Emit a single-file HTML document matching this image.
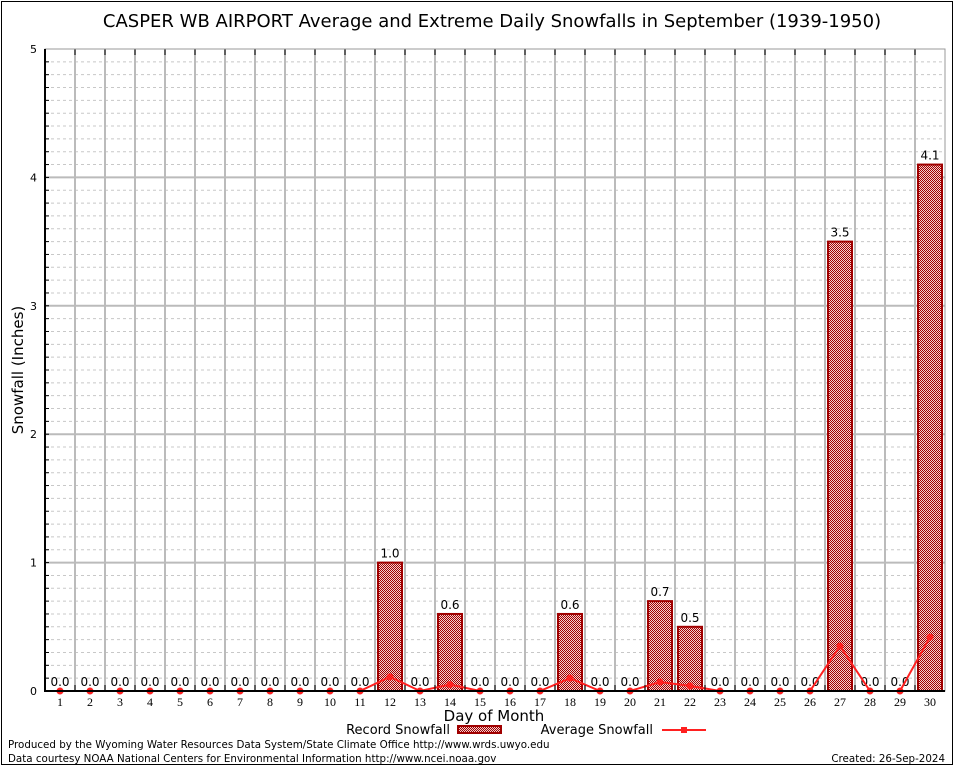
<!DOCTYPE html>
<html><head><meta charset="utf-8"><style>
body{margin:0;background:#fff}
svg{display:block;font-family:"DejaVu Sans","Liberation Sans",sans-serif}
</style></head><body>
<svg id="c" width="954" height="768" viewBox="0 0 954 768">
<defs><pattern id="hatch" width="2" height="2" patternUnits="userSpaceOnUse"><rect width="2" height="2" fill="#f4d0d0"/><rect width="1" height="1" fill="#a00000"/><rect x="1" y="1" width="1" height="1" fill="#a00000"/></pattern></defs>
<rect x="1.5" y="1.5" width="951" height="763" fill="none" stroke="#000"/>
<text x="492" y="27" text-anchor="middle" font-size="18">CASPER WB AIRPORT Average and Extreme Daily Snowfalls in September (1939-1950)</text>
<g id="grid"></g><g id="bars"></g><g id="avg"></g><g id="axes"></g>
<text transform="translate(23,370) rotate(-90)" text-anchor="middle" font-size="15">Snowfall (Inches)</text>
<text x="494" y="721" text-anchor="middle" font-size="15">Day of Month</text>
<g>
<text x="450" y="734" text-anchor="end" font-size="13">Record Snowfall</text>
<rect x="458" y="726" width="43" height="7" fill="url(#hatch)" stroke="#a00000" stroke-width="2"/>
<text x="653" y="734" text-anchor="end" font-size="13">Average Snowfall</text>
<line x1="662" y1="730" x2="706" y2="730" stroke="#ff2020" stroke-width="2"/>
<rect x="681" y="727" width="6" height="6" fill="#ff2020"/>
</g>
<text x="8" y="748" font-size="10.3">Produced by the Wyoming Water Resources Data System/State Climate Office http://www.wrds.uwyo.edu</text>
<text x="8" y="762" font-size="10.3">Data courtesy NOAA National Centers for Environmental Information http://www.ncei.noaa.gov</text>
<text x="945" y="762" text-anchor="end" font-size="10.3">Created: 26-Sep-2024</text>
</svg>
<script>
const days=[1,2,3,4,5,6,7,8,9,10,11,12,13,14,15,16,17,18,19,20,21,22,23,24,25,26,27,28,29,30];
const recordSnow=[0,0,0,0,0,0,0,0,0,0,0,1.0,0,0.6,0,0,0,0.6,0,0,0.7,0.5,0,0,0,0,3.5,0,0,4.1];
const avgSnow=[0,0,0,0,0,0,0,0,0,0,0,0.11,0,0.05,0,0,0,0.1,0,0,0.07,0.04,0,0,0,0,0.35,0,0,0.42];
const yTicks=[0,1,2,3,4,5];
const L=45,R=945,T=49,B=691;
const x=d=>L+(d-0.5)*(R-L)/30;
const y=v=>B-v*(B-T)/5;
const NS='http://www.w3.org/2000/svg';
function mk(p,tag,at){const e=document.createElementNS(NS,tag);for(const k in at)e.setAttribute(k,at[k]);p.appendChild(e);return e;}
const G=document.getElementById('grid'),Bg=document.getElementById('bars'),A=document.getElementById('avg'),X=document.getElementById('axes');
for(let m=1;m<50;m++){if(m%10==0)continue;const l=mk(G,'line',{x1:L,x2:R,y1:y(m/10),y2:y(m/10),stroke:'#c8c8c8','stroke-dasharray':'3,3','stroke-width':1});

}
for(let d=1;d<30;d++){const l=mk(G,'line',{x1:x(d)+15,x2:x(d)+15,y1:T,y2:B,stroke:'#bbb','stroke-width':2});


const t=mk(X,'line',{x1:x(d)+15,x2:x(d)+15,y1:T,y2:T+6,stroke:'#000'});


const t2=mk(X,'line',{x1:x(d)+15,x2:x(d)+15,y1:B,y2:B-6,stroke:'#000'});

}
yTicks.forEach(v=>{if(v>0&&v<5){const l=mk(G,'line',{x1:L,x2:R,y1:y(v),y2:y(v),stroke:'#bbb','stroke-width':2});

}
const t=mk(X,'text',{x:L-8,y:y(v)+4,'text-anchor':'end','font-size':11});t.textContent=v;

});
for(let m=1;m<50;m++){const t=mk(X,'line',{x1:L,x2:L+4,y1:y(m/10),y2:y(m/10),stroke:'#000'});

}
const fr=mk(X,'rect',{x:L,y:T,width:R-L,height:B-T,fill:'none',stroke:'#999','stroke-width':1});


const ax=mk(X,'path',{d:`M${L},${T}V${B}H${R}`,fill:'none',stroke:'#000','stroke-width':2});


days.forEach((d,i)=>{const v=recordSnow[i];
if(v>0){const r=mk(Bg,'rect',{x:x(d)-12,y:y(v),width:24,height:y(0)-y(v),fill:'url(#hatch)',stroke:'#a00000','stroke-width':2});

}
const t=mk(Bg,'text',{x:x(d),y:y(v)-5,'text-anchor':'middle','font-size':12});t.textContent=v.toFixed(1);


const dl=mk(X,'text',{x:x(d),y:B+15,'text-anchor':'middle','font-size':12,'font-family':'Liberation Serif,serif'});dl.textContent=d;

});
const pl=mk(A,'polyline',{points:days.map((d,i)=>x(d)+','+y(avgSnow[i])).join(' '),fill:'none',stroke:'#ff2020','stroke-width':2});


days.forEach((d,i)=>{const c=mk(A,'circle',{cx:x(d),cy:y(avgSnow[i]),r:3.5,fill:'#ff2020'});

});
</script>
</body></html>
